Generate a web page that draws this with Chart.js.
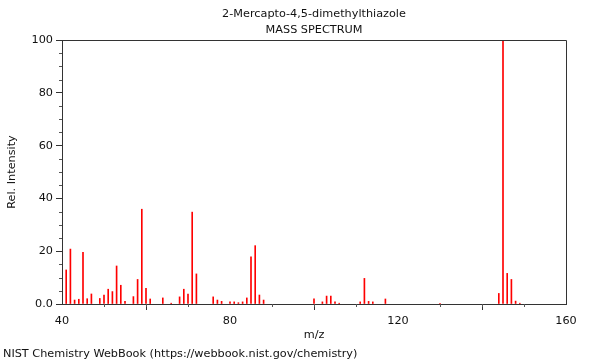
<!DOCTYPE html>
<html>
<head>
<meta charset="utf-8">
<script src="https://cdn.jsdelivr.net/npm/chart.js@4/dist/chart.umd.min.js"></script>
<style>
html,body{margin:0;padding:0;background:#fff;}
#wrap{position:relative;width:600px;height:360px;}
</style>
</head>
<body>
<div id="wrap"><canvas id="c" width="600" height="360"></canvas></div>
<script>
const titleLines = ['2-Mercapto-4,5-dimethylthiazole', 'MASS SPECTRUM'];
const xTitle = 'm/z';
const yTitle = 'Rel. Intensity';
const footer = 'NIST Chemistry WebBook (https://webbook.nist.gov/chemistry)';

const mz = [41,42,43,44,45,46,47,49,50,51,52,53,54,55,57,58,59,60,61,64,66,68,69,70,71,72,76,77,78,80,81,82,83,84,85,86,87,88,100,102,103,104,105,106,111,112,113,114,117,130,144,145,146,147,148,149];
const intensity = [12.9,20.8,1.5,1.8,19.6,2.0,3.8,2.1,3.4,5.6,4.7,14.4,7.1,1.0,2.8,9.3,35.9,5.9,1.9,2.3,0.3,2.7,5.6,3.8,34.8,11.4,2.7,1.5,1.0,0.8,0.8,0.5,0.8,2.3,17.9,22.1,3.4,1.5,2.0,0.8,3.0,3.0,0.8,0.3,0.8,9.7,1.0,0.8,1.9,0.3,4.0,100,11.6,9.3,1.1,0.3];

const xMajorTicks = [40, 80, 120, 160];
const yMajorTicks = [0, 20, 40, 60, 80, 100];

const FONT = 'DejaVu Sans';
const AXIS = '#333333';

const points = mz.map((m, i) => ({x: m, y: intensity[i]}));

const decor = {
  id: 'decor',
  afterDraw(chart) {
    const ctx = chart.ctx;
    const a = chart.chartArea;
    const xs = chart.scales.x, ys = chart.scales.y;
    ctx.save();
    ctx.strokeStyle = AXIS;
    ctx.lineWidth = 1;
    ctx.beginPath();
    ctx.moveTo(a.left, a.top + 0.5);
    ctx.lineTo(a.right + 0.5, a.top + 0.5);
    ctx.lineTo(a.right + 0.5, a.bottom);
    ctx.stroke();
    ctx.strokeStyle = '#555';
    ctx.beginPath();
    for (let v = 50; v < 160; v += 10) {
      if (xMajorTicks.includes(v)) continue;
      const px = Math.round(xs.getPixelForValue(v)) + 0.5;
      ctx.moveTo(px, a.bottom);
      ctx.lineTo(px, a.bottom + 3);
    }
    for (let v = 5; v < 100; v += 5) {
      if (yMajorTicks.includes(v)) continue;
      const py = Math.round(ys.getPixelForValue(v)) + 0.5;
      ctx.moveTo(a.left, py);
      ctx.lineTo(a.left - 3, py);
    }
    ctx.stroke();
    ctx.fillStyle = '#111';
    ctx.font = '11.25px "' + FONT + '"';
    ctx.textAlign = 'center';
    ctx.textBaseline = 'middle';
    const cx = (a.left + a.right) / 2;
    ctx.fillText(titleLines[0], cx, 14);
    ctx.fillText(titleLines[1], cx, 30);
    ctx.fillText(xTitle, cx, 335);
    ctx.save();
    ctx.translate(12, (a.top + a.bottom) / 2);
    ctx.rotate(-Math.PI / 2);
    ctx.fillText(yTitle, 0, 0);
    ctx.restore();
    ctx.textAlign = 'left';
    ctx.fillText(footer, 3, 354);
    ctx.restore();
  }
};

new Chart(document.getElementById('c'), {
  type: 'bar',
  data: {
    datasets: [{
      data: points,
      backgroundColor: 'rgb(255,0,0)',
      borderWidth: 0,
      barThickness: 1,
      grouped: false
    }]
  },
  options: {
    responsive: false,
    animation: false,
    layout: {padding: {left: 0, right: 34, top: 40, bottom: 0}},
    plugins: {legend: {display: false}, tooltip: {enabled: false}, title: {display: false}},
    scales: {
      x: {
        type: 'linear',
        min: 40, max: 160,
        offset: false,
        afterFit(s) { s.height = 56; },
        afterBuildTicks(s) { s.ticks = xMajorTicks.map(v => ({value: v})); },
        ticks: {
          autoSkip: false, maxRotation: 0,
          color: '#111',
          font: {family: FONT, size: 11.25},
          padding: 4
        },
        grid: {display: true, drawOnChartArea: false, tickLength: 6, tickColor: AXIS},
        border: {display: true, color: AXIS, width: 1}
      },
      y: {
        min: 0, max: 100,
        afterFit(s) { s.width = 62; },
        afterBuildTicks(s) { s.ticks = yMajorTicks.map(v => ({value: v})); },
        ticks: {
          autoSkip: false,
          color: '#111',
          font: {family: FONT, size: 11.25},
          padding: 3,
          callback: v => v === 0 ? '0.0' : String(v)
        },
        grid: {display: true, drawOnChartArea: false, tickLength: 6, tickColor: AXIS},
        border: {display: true, color: AXIS, width: 1}
      }
    }
  },
  plugins: [decor]
});
</script>
</body>
</html>
